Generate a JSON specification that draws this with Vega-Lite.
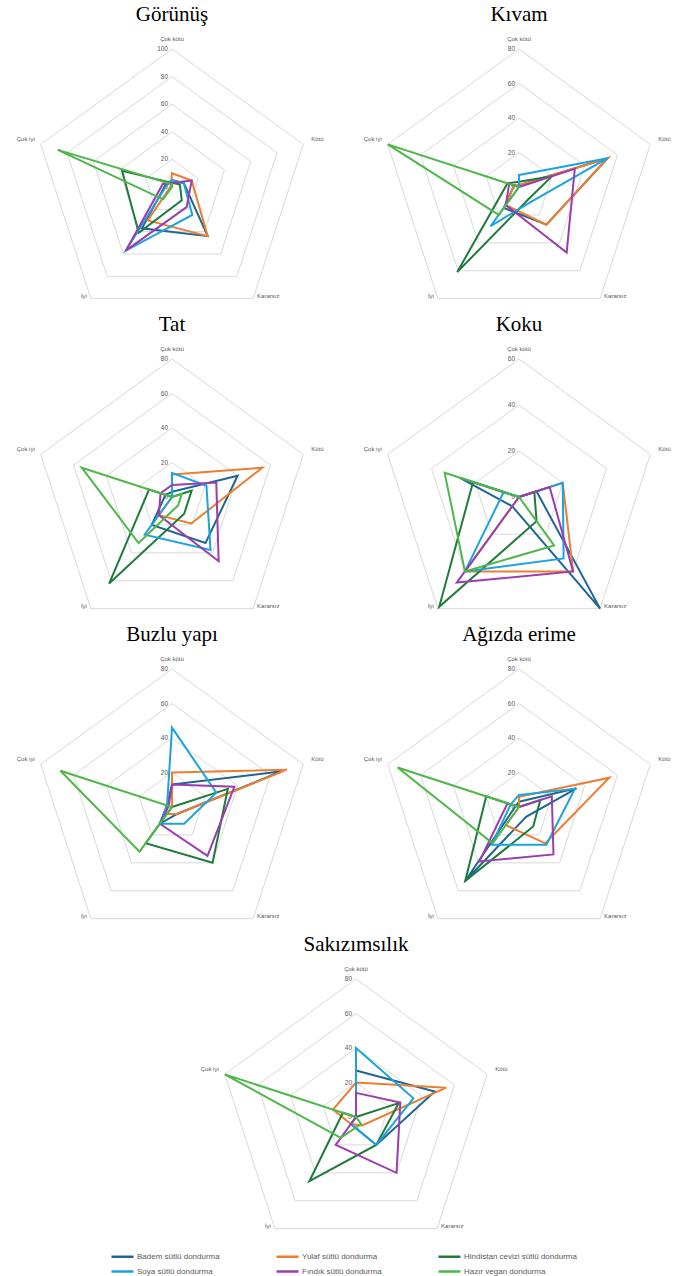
{
"$schema":"https://vega.github.io/schema/vega-lite/v6.json",
"padding":0,
"spacing":4,
"config":{"view":{"stroke":null},"header":{"labels":false,"title":null,"labelPadding":0,"titlePadding":0},"headerFacet":{"labels":false,"title":null,"labelPadding":0,"titlePadding":0}},
"datasets":{"d":[
{"t":"g","p":"Görünüş","r":[0,20,40,60,80,100]},
{"t":"g","p":"Kıvam","r":[0,20,40,60,80]},
{"t":"g","p":"Tat","r":[0,20,40,60,80]},
{"t":"g","p":"Koku","r":[0,20,40,60]},
{"t":"g","p":"Buzlu yapı","r":[0,20,40,60,80]},
{"t":"g","p":"Ağızda erime","r":[0,20,40,60,80]},
{"t":"g","p":"Sakızımsılık","r":[0,20,40,60,80]},
{"t":"v","p":"Görünüş","s":"Badem sütlü dondurma","cokkotu":5,"kotu":9,"kararsiz":44,"iyi":37,"cokiyi":5},
{"t":"v","p":"Görünüş","s":"Yulaf sütlü dondurma","cokkotu":10,"kotu":15,"kararsiz":44,"iyi":30,"cokiyi":1},
{"t":"v","p":"Görünüş","s":"Hindistan cevizi sütlü dondurma","cokkotu":3,"kotu":6,"kararsiz":12,"iyi":41,"cokiyi":38},
{"t":"v","p":"Görünüş","s":"Soya sütlü dondurma","cokkotu":5,"kotu":9,"kararsiz":25,"iyi":57,"cokiyi":4},
{"t":"v","p":"Görünüş","s":"Fındık sütlü dondurma","cokkotu":3,"kotu":15,"kararsiz":18,"iyi":57,"cokiyi":7},
{"t":"v","p":"Görünüş","s":"Hazır vegan dondurma","cokkotu":2,"kotu":0,"kararsiz":0,"iyi":11,"cokiyi":87},
{"t":"v","p":"Kıvam","s":"Badem sütlü dondurma","cokkotu":1,"kotu":54,"kararsiz":27,"iyi":15,"cokiyi":3},
{"t":"v","p":"Kıvam","s":"Yulaf sütlü dondurma","cokkotu":1,"kotu":54,"kararsiz":27,"iyi":13,"cokiyi":3},
{"t":"v","p":"Kıvam","s":"Hindistan cevizi sütlü dondurma","cokkotu":3,"kotu":20,"kararsiz":9,"iyi":61,"cokiyi":7},
{"t":"v","p":"Kıvam","s":"Soya sütlü dondurma","cokkotu":7,"kotu":54,"kararsiz":11,"iyi":28,"cokiyi":0},
{"t":"v","p":"Kıvam","s":"Fındık sütlü dondurma","cokkotu":0,"kotu":34,"kararsiz":47,"iyi":13,"cokiyi":6},
{"t":"v","p":"Kıvam","s":"Hazır vegan dondurma","cokkotu":0,"kotu":0,"kararsiz":0,"iyi":20,"cokiyi":80},
{"t":"v","p":"Tat","s":"Badem sütlü dondurma","cokkotu":3,"kotu":40,"kararsiz":33,"iyi":20,"cokiyi":4},
{"t":"v","p":"Tat","s":"Yulaf sütlü dondurma","cokkotu":13,"kotu":55,"kararsiz":19,"iyi":13,"cokiyi":0},
{"t":"v","p":"Tat","s":"Hindistan cevizi sütlü dondurma","cokkotu":0,"kotu":12,"kararsiz":12,"iyi":62,"cokiyi":14},
{"t":"v","p":"Tat","s":"Soya sütlü dondurma","cokkotu":14,"kotu":21,"kararsiz":38,"iyi":27,"cokiyi":0},
{"t":"v","p":"Tat","s":"Fındık sütlü dondurma","cokkotu":7,"kotu":27,"kararsiz":46,"iyi":13,"cokiyi":7},
{"t":"v","p":"Tat","s":"Hazır vegan dondurma","cokkotu":0,"kotu":6,"kararsiz":6,"iyi":33,"cokiyi":55},
{"t":"v","p":"Koku","s":"Badem sütlü dondurma","cokkotu":0,"kotu":8,"kararsiz":60,"iyi":5,"cokiyi":27},
{"t":"v","p":"Koku","s":"Yulaf sütlü dondurma","cokkotu":0,"kotu":20,"kararsiz":40,"iyi":40,"cokiyi":0},
{"t":"v","p":"Koku","s":"Hindistan cevizi sütlü dondurma","cokkotu":0,"kotu":7,"kararsiz":13,"iyi":59,"cokiyi":21},
{"t":"v","p":"Koku","s":"Soya sütlü dondurma","cokkotu":0,"kotu":20,"kararsiz":33,"iyi":40,"cokiyi":7},
{"t":"v","p":"Koku","s":"Fındık sütlü dondurma","cokkotu":0,"kotu":14,"kararsiz":40,"iyi":46,"cokiyi":0},
{"t":"v","p":"Koku","s":"Hazır vegan dondurma","cokkotu":0,"kotu":0,"kararsiz":26,"iyi":40,"cokiyi":34},
{"t":"v","p":"Buzlu yapı","s":"Badem sütlü dondurma","cokkotu":13,"kotu":67,"kararsiz":5,"iyi":12,"cokiyi":3},
{"t":"v","p":"Buzlu yapı","s":"Yulaf sütlü dondurma","cokkotu":20,"kotu":70,"kararsiz":5,"iyi":5,"cokiyi":0},
{"t":"v","p":"Buzlu yapı","s":"Hindistan cevizi sütlü dondurma","cokkotu":0,"kotu":34,"kararsiz":40,"iyi":26,"cokiyi":0},
{"t":"v","p":"Buzlu yapı","s":"Soya sütlü dondurma","cokkotu":46,"kotu":27,"kararsiz":12,"iyi":12,"cokiyi":3},
{"t":"v","p":"Buzlu yapı","s":"Fındık sütlü dondurma","cokkotu":13,"kotu":38,"kararsiz":35,"iyi":12,"cokiyi":2},
{"t":"v","p":"Buzlu yapı","s":"Hazır vegan dondurma","cokkotu":0,"kotu":0,"kararsiz":0,"iyi":32,"cokiyi":68},
{"t":"v","p":"Ağızda erime","s":"Badem sütlü dondurma","cokkotu":3,"kotu":35,"kararsiz":7,"iyi":53,"cokiyi":2},
{"t":"v","p":"Ağızda erime","s":"Yulaf sütlü dondurma","cokkotu":6,"kotu":55,"kararsiz":26,"iyi":13,"cokiyi":0},
{"t":"v","p":"Ağızda erime","s":"Hindistan cevizi sütlü dondurma","cokkotu":0,"kotu":13,"kararsiz":14,"iyi":53,"cokiyi":20},
{"t":"v","p":"Ağızda erime","s":"Soya sütlü dondurma","cokkotu":7,"kotu":34,"kararsiz":27,"iyi":27,"cokiyi":5},
{"t":"v","p":"Ağızda erime","s":"Fındık sütlü dondurma","cokkotu":0,"kotu":20,"kararsiz":34,"iyi":39,"cokiyi":7},
{"t":"v","p":"Ağızda erime","s":"Hazır vegan dondurma","cokkotu":0,"kotu":0,"kararsiz":0,"iyi":26,"cokiyi":74},
{"t":"v","p":"Sakızımsılık","s":"Badem sütlü dondurma","cokkotu":27,"kotu":48,"kararsiz":20,"iyi":5,"cokiyi":0},
{"t":"v","p":"Sakızımsılık","s":"Yulaf sütlü dondurma","cokkotu":20,"kotu":55,"kararsiz":6,"iyi":5,"cokiyi":14},
{"t":"v","p":"Sakızımsılık","s":"Hindistan cevizi sütlü dondurma","cokkotu":0,"kotu":26,"kararsiz":20,"iyi":46,"cokiyi":8},
{"t":"v","p":"Sakızımsılık","s":"Soya sütlü dondurma","cokkotu":40,"kotu":35,"kararsiz":20,"iyi":5,"cokiyi":0},
{"t":"v","p":"Sakızımsılık","s":"Fındık sütlü dondurma","cokkotu":14,"kotu":27,"kararsiz":40,"iyi":20,"cokiyi":0},
{"t":"v","p":"Sakızımsılık","s":"Hazır vegan dondurma","cokkotu":0,"kotu":0,"kararsiz":5,"iyi":15,"cokiyi":80}
]},
"vconcat":[
{
"data":{"name":"d"},
"transform":[
{"filter":"datum.p!='Sakızımsılık'"},
{"fold":["cokkotu","kotu","kararsiz","iyi","cokiyi"],"as":["key","val"]},
{"calculate":"indexof(['cokkotu','kotu','kararsiz','iyi','cokiyi'],datum.key)","as":"k"},
{"calculate":"datum.p=='Görünüş'?100:(datum.p=='Koku'?60:80)","as":"m"},
{"calculate":"sin(datum.k*2*PI/5)","as":"sa"},
{"calculate":"cos(datum.k*2*PI/5)","as":"ca"}
],
"facet":{"field":"p","type":"nominal","title":null,"sort":["Görünüş","Kıvam","Tat","Koku","Buzlu yapı","Ağızda erime"],"header":{"labels":false,"title":null,"labelPadding":0,"labelExpr":"''","labelFontSize":0}},
"columns":2,
"spacing":{"row":4,"column":17},
"spec":{
"width":330,"height":306,
"encoding":{
"x":{"field":"x","type":"quantitative","scale":{"domain":[-1.2464,1.1449],"nice":false,"zero":false},"axis":null},
"y":{"field":"y","type":"quantitative","scale":{"domain":[-0.8623,1.3551],"nice":false,"zero":false},"axis":null}
},
"layer":[
{"transform":[{"filter":"datum.t=='g'"},{"flatten":["r"]},{"filter":"datum.r>0"},{"calculate":"datum.r/datum.m*datum.sa","as":"x"},{"calculate":"datum.r/datum.m*datum.ca","as":"y"}],
 "mark":{"type":"line","interpolate":"linear-closed","stroke":"#d9d9d9","strokeWidth":1},
 "encoding":{"detail":{"field":"r","type":"nominal"},"order":{"field":"k","type":"quantitative"}}},
{"transform":[{"filter":"datum.t=='g' && datum.k==0"},{"flatten":["r"]},{"calculate":"0","as":"x"},{"calculate":"datum.r/datum.m","as":"y"}],
 "mark":{"type":"text","align":"right","baseline":"middle","dx":-4,"fontSize":6.5,"font":"Liberation Sans","color":"#595959"},
 "encoding":{"text":{"field":"r","type":"quantitative"}}},
{"transform":[{"filter":"datum.t=='v'"},{"calculate":"datum.val/datum.m*datum.sa","as":"x"},{"calculate":"datum.val/datum.m*datum.ca","as":"y"}],
 "mark":{"type":"line","interpolate":"linear-closed","strokeWidth":2},
 "encoding":{"color":{"field":"s","type":"nominal","scale":{"domain":["Badem sütlü dondurma","Yulaf sütlü dondurma","Hindistan cevizi sütlü dondurma","Soya sütlü dondurma","Fındık sütlü dondurma","Hazır vegan dondurma"],"range":["#1f6691","#ed7d31","#1e7b3a","#1ca3dd","#9b3dae","#4eb748"]},
   "legend":{"orient":"none","legendX":116,"legendY":1250,"direction":"horizontal","columns":3,"title":null,"symbolType":"M-2.2,0L2.2,0","symbolSize":100,"symbolStrokeWidth":2.5,"labelFontSize":8,"labelFont":"Liberation Sans","labelColor":"#595959","columnPadding":51,"rowPadding":3,"labelOffset":8,"labelLimit":200,"padding":0}},
  "order":{"field":"k","type":"quantitative"}}},
{"transform":[{"filter":"datum.t=='g' && datum.k==0"},{"calculate":"datum.sa","as":"x"},{"calculate":"datum.ca","as":"y"}],
 "mark":{"type":"text","align":"center","baseline":"middle","dy":-10,"fontSize":6,"font":"Liberation Sans","color":"#595959"},
 "encoding":{"text":{"value":"Çok kötü"}}},
{"transform":[{"filter":"datum.t=='g' && datum.k==1"},{"calculate":"datum.sa","as":"x"},{"calculate":"datum.ca","as":"y"}],
 "mark":{"type":"text","align":"left","baseline":"middle","dx":8,"dy":-5,"fontSize":6,"font":"Liberation Sans","color":"#595959"},
 "encoding":{"text":{"value":"Kötü"}}},
{"transform":[{"filter":"datum.t=='g' && datum.k==2"},{"calculate":"datum.sa","as":"x"},{"calculate":"datum.ca","as":"y"}],
 "mark":{"type":"text","align":"left","baseline":"middle","dx":4,"dy":-3,"fontSize":6,"font":"Liberation Sans","color":"#595959"},
 "encoding":{"text":{"value":"Kararsız"}}},
{"transform":[{"filter":"datum.t=='g' && datum.k==3"},{"calculate":"datum.sa","as":"x"},{"calculate":"datum.ca","as":"y"}],
 "mark":{"type":"text","align":"right","baseline":"middle","dx":-4,"dy":-3,"fontSize":6,"font":"Liberation Sans","color":"#595959"},
 "encoding":{"text":{"value":"İyi"}}},
{"transform":[{"filter":"datum.t=='g' && datum.k==4"},{"calculate":"datum.sa","as":"x"},{"calculate":"datum.ca","as":"y"}],
 "mark":{"type":"text","align":"right","baseline":"middle","dx":-6,"dy":-5,"fontSize":6,"font":"Liberation Sans","color":"#595959"},
 "encoding":{"text":{"value":"Çok iyi"}}},
{"transform":[{"filter":"datum.t=='g' && datum.k==0"},{"calculate":"datum.sa","as":"x"},{"calculate":"datum.ca","as":"y"}],
 "mark":{"type":"text","align":"center","baseline":"middle","dy":-34,"fontSize":21,"font":"Liberation Serif","color":"#000000"},
 "encoding":{"text":{"field":"p","type":"nominal"}}}
]
}
},
{
"width":673,"height":306,
"data":{"name":"d"},
"transform":[
{"filter":"datum.p=='Sakızımsılık'"},
{"fold":["cokkotu","kotu","kararsiz","iyi","cokiyi"],"as":["key","val"]},
{"calculate":"indexof(['cokkotu','kotu','kararsiz','iyi','cokiyi'],datum.key)","as":"k"},
{"calculate":"80","as":"m"},
{"calculate":"sin(datum.k*2*PI/5)","as":"sa"},
{"calculate":"cos(datum.k*2*PI/5)","as":"ca"}
],
"encoding":{
"x":{"field":"x","type":"quantitative","scale":{"domain":[-2.5797,2.2971],"nice":false,"zero":false},"axis":null},
"y":{"field":"y","type":"quantitative","scale":{"domain":[-0.8623,1.3551],"nice":false,"zero":false},"axis":null}
},
"layer":[
{"transform":[{"filter":"datum.t=='g'"},{"flatten":["r"]},{"filter":"datum.r>0"},{"calculate":"datum.r/datum.m*datum.sa","as":"x"},{"calculate":"datum.r/datum.m*datum.ca","as":"y"}],
 "mark":{"type":"line","interpolate":"linear-closed","stroke":"#d9d9d9","strokeWidth":1},
 "encoding":{"detail":{"field":"r","type":"nominal"},"order":{"field":"k","type":"quantitative"}}},
{"transform":[{"filter":"datum.t=='g' && datum.k==0"},{"flatten":["r"]},{"calculate":"0","as":"x"},{"calculate":"datum.r/datum.m","as":"y"}],
 "mark":{"type":"text","align":"right","baseline":"middle","dx":-4,"fontSize":6.5,"font":"Liberation Sans","color":"#595959"},
 "encoding":{"text":{"field":"r","type":"quantitative"}}},
{"transform":[{"filter":"datum.t=='v'"},{"calculate":"datum.val/datum.m*datum.sa","as":"x"},{"calculate":"datum.val/datum.m*datum.ca","as":"y"}],
 "mark":{"type":"line","interpolate":"linear-closed","strokeWidth":2},
 "encoding":{"color":{"field":"s","type":"nominal","scale":{"domain":["Badem sütlü dondurma","Yulaf sütlü dondurma","Hindistan cevizi sütlü dondurma","Soya sütlü dondurma","Fındık sütlü dondurma","Hazır vegan dondurma"],"range":["#1f6691","#ed7d31","#1e7b3a","#1ca3dd","#9b3dae","#4eb748"]},
   "legend":{"orient":"none","legendX":116,"legendY":1250,"direction":"horizontal","columns":3,"title":null,"symbolType":"M-2.2,0L2.2,0","symbolSize":100,"symbolStrokeWidth":2.5,"labelFontSize":8,"labelFont":"Liberation Sans","labelColor":"#595959","columnPadding":51,"rowPadding":3,"labelOffset":8,"labelLimit":200,"padding":0}},
  "order":{"field":"k","type":"quantitative"}}},
{"transform":[{"filter":"datum.t=='g' && datum.k==0"},{"calculate":"datum.sa","as":"x"},{"calculate":"datum.ca","as":"y"}],
 "mark":{"type":"text","align":"center","baseline":"middle","dy":-10,"fontSize":6,"font":"Liberation Sans","color":"#595959"},
 "encoding":{"text":{"value":"Çok kötü"}}},
{"transform":[{"filter":"datum.t=='g' && datum.k==1"},{"calculate":"datum.sa","as":"x"},{"calculate":"datum.ca","as":"y"}],
 "mark":{"type":"text","align":"left","baseline":"middle","dx":8,"dy":-5,"fontSize":6,"font":"Liberation Sans","color":"#595959"},
 "encoding":{"text":{"value":"Kötü"}}},
{"transform":[{"filter":"datum.t=='g' && datum.k==2"},{"calculate":"datum.sa","as":"x"},{"calculate":"datum.ca","as":"y"}],
 "mark":{"type":"text","align":"left","baseline":"middle","dx":4,"dy":-3,"fontSize":6,"font":"Liberation Sans","color":"#595959"},
 "encoding":{"text":{"value":"Kararsız"}}},
{"transform":[{"filter":"datum.t=='g' && datum.k==3"},{"calculate":"datum.sa","as":"x"},{"calculate":"datum.ca","as":"y"}],
 "mark":{"type":"text","align":"right","baseline":"middle","dx":-4,"dy":-3,"fontSize":6,"font":"Liberation Sans","color":"#595959"},
 "encoding":{"text":{"value":"İyi"}}},
{"transform":[{"filter":"datum.t=='g' && datum.k==4"},{"calculate":"datum.sa","as":"x"},{"calculate":"datum.ca","as":"y"}],
 "mark":{"type":"text","align":"right","baseline":"middle","dx":-6,"dy":-5,"fontSize":6,"font":"Liberation Sans","color":"#595959"},
 "encoding":{"text":{"value":"Çok iyi"}}},
{"transform":[{"filter":"datum.t=='g' && datum.k==0"},{"calculate":"datum.sa","as":"x"},{"calculate":"datum.ca","as":"y"}],
 "mark":{"type":"text","align":"center","baseline":"middle","dy":-34,"fontSize":21,"font":"Liberation Serif","color":"#000000"},
 "encoding":{"text":{"field":"p","type":"nominal"}}}
]
}
]
}
